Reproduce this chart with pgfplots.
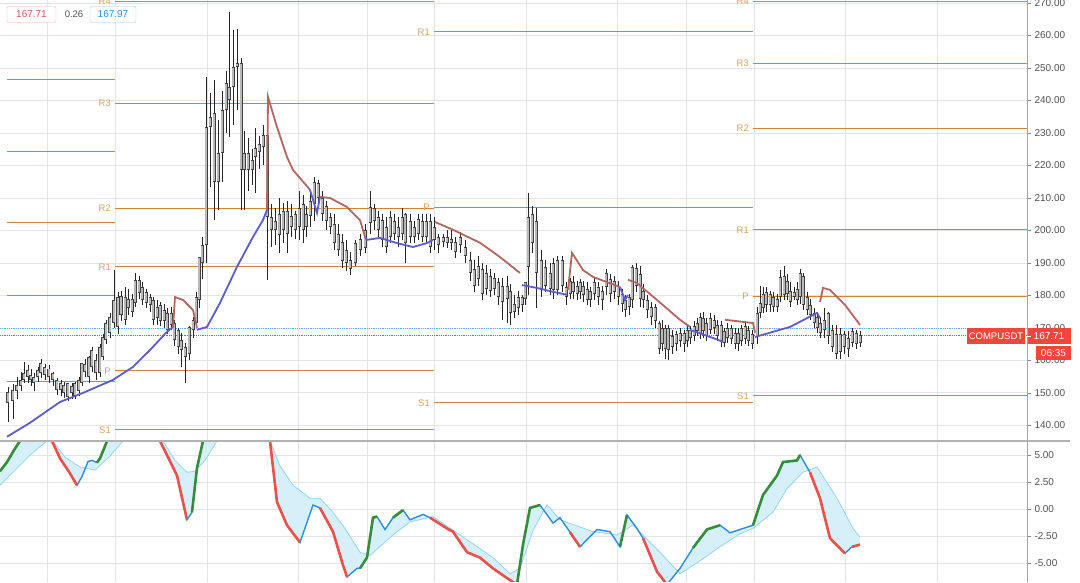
\documentclass[border=0pt]{standalone}
\usepackage{fontspec}
\setmainfont{Liberation Sans}
\usepackage{pgfplots}
\pgfplotsset{compat=1.18}
\usepackage{pgfplotstable}

\definecolor{gridc}{RGB}{228,228,232}
\definecolor{pivc}{RGB}{205,132,62}
\definecolor{pivt}{RGB}{210,160,100}
\definecolor{maR}{RGB}{178,102,96}
\definecolor{maB}{RGB}{92,92,205}
\definecolor{oscB}{RGB}{45,140,220}
\definecolor{oscR}{RGB}{235,80,75}
\definecolor{oscG}{RGB}{55,140,60}
\definecolor{bandL}{RGB}{150,212,232}
\definecolor{bandF}{RGB}{214,240,250}
\definecolor{tv}{RGB}{240,70,60}
\definecolor{tickc}{RGB}{80,80,80}

% candles: x, open, high, low, close
\pgfplotstableread{
x o h l c
8 146.9 151.8 141.1 150.3
13 147.5 152.8 142.0 150.9
17 150.5 155.0 148.0 152.5
21 152.0 156.5 150.5 154.0
24 154.0 159.5 153.0 156.1
28 154.9 158.5 153.0 157.1
31 154.0 157.5 152.0 155.5
34 153.1 156.0 150.5 155.0
38 154.9 158.0 153.5 157.1
41 156.1 160.5 154.5 159.2
45 155.5 159.0 154.0 158.0
49 154.9 158.5 153.0 157.5
53 154.0 156.5 152.0 156.1
57 150.9 154.5 149.5 154.0
61 151.0 154.0 149.0 153.0
64 150.0 153.5 148.5 152.4
68 148.7 153.0 147.5 153.0
72 150.0 153.0 148.0 152.0
75 149.0 153.5 148.0 153.0
79 150.5 155.0 149.0 154.0
82 153.1 159.2 152.0 159.2
85 156.5 160.5 155.0 159.0
89 155.0 161.5 153.0 161.0
92 158.0 164.0 156.5 163.2
96 156.1 162.0 154.0 160.2
100 156.1 165.0 155.0 164.2
103 161.1 168.0 160.0 167.2
106 166.3 172.5 165.0 171.5
110 168.5 174.5 167.0 173.4
114 171.5 187.8 170.0 178.6
118 170.3 181.0 168.0 179.5
121 174.0 181.5 172.0 179.8
125 172.5 182.5 171.0 179.5
128 176.0 182.0 174.0 179.0
132 175.0 180.5 173.5 179.0
135 177.7 186.9 176.5 184.8
139 180.8 186.0 179.0 184.8
142 178.5 184.0 177.0 182.5
146 177.7 182.0 176.0 181.0
150 177.0 180.5 175.0 179.5
153 172.5 179.5 171.0 178.6
157 173.0 178.5 171.0 176.5
160 172.0 178.0 170.5 177.0
164 172.0 177.5 170.0 175.5
167 169.4 176.0 168.0 174.5
171 171.0 176.5 169.5 174.5
174 166.3 172.5 164.5 171.5
178 164.2 170.0 162.0 169.4
181 163.2 168.5 158.0 166.3
185 161.1 165.5 153.0 164.2
189 162.0 170.5 160.0 170.3
193 169.5 173.5 167.0 172.5
196 171.5 181.0 170.0 179.5
199 178.6 191.8 176.0 191.8
202 190.0 198.0 185.0 195.5
206 195.5 247.2 190.0 231.8
210 231.8 242.3 213.4 235.0
214 215.0 246.3 203.2 236.0
218 215.0 234.0 206.3 223.8
222 223.8 243.0 215.0 237.0
226 237.1 249.0 230.0 245.4
229 240.1 267.2 228.8 244.2
233 244.1 261.7 232.5 250.3
237 250.3 262.0 237.0 251.5
241 218.6 253.0 206.3 251.5
244 218.6 230.6 206.3 223.8
248 218.6 228.5 212.0 223.8
252 218.6 225.0 214.0 221.7
255 222.6 231.5 211.5 225.4
259 224.0 229.0 219.0 226.5
263 225.7 232.5 220.0 229.4
267 204.1 230.5 184.8 229.4
271 200.2 208.0 195.0 204.1
275 200.0 207.0 195.5 203.0
279 198.5 210.0 193.0 205.0
283 200.0 208.5 196.0 206.0
287 199.0 209.0 193.0 206.0
291 201.0 208.0 198.0 204.5
295 200.0 206.0 197.5 205.0
299 201.0 212.0 197.0 207.0
303 200.0 211.0 196.0 208.0
306 201.0 207.5 198.0 205.0
310 204.5 212.0 201.0 209.0
314 208.0 216.5 203.0 215.0
318 210.0 215.5 207.0 214.5
322 205.0 212.0 203.0 210.0
326 203.0 209.0 200.0 207.5
330 201.0 205.5 199.0 204.0
334 196.0 205.0 194.0 202.0
338 194.0 202.0 192.0 199.0
342 190.5 199.0 188.5 196.5
346 190.0 197.0 187.5 194.0
350 188.0 193.5 186.3 191.0
355 190.0 197.0 189.0 196.0
360 194.0 199.0 192.0 197.5
365 194.5 202.0 193.0 200.2
370 202.3 212.0 199.0 207.2
374 203.0 208.0 200.0 207.0
378 200.0 206.0 198.0 204.0
382 197.1 205.0 195.0 203.2
386 195.0 204.0 193.0 201.0
390 198.0 206.0 196.0 204.0
394 199.0 205.0 197.0 203.0
398 198.0 204.0 195.0 201.0
402 199.0 207.0 197.0 204.0
405 196.2 205.5 190.0 205.0
410 198.0 205.0 196.0 203.0
414 198.0 203.0 196.0 201.0
418 199.0 205.0 197.0 203.5
422 198.0 205.0 196.5 203.0
426 198.0 205.0 196.0 203.0
430 195.0 205.0 193.0 203.0
434 197.0 204.0 194.0 201.0
438 195.5 199.0 193.0 198.0
443 196.5 199.0 195.0 198.0
447 196.0 200.0 194.5 198.0
451 196.0 200.0 194.0 197.5
455 193.5 198.0 191.5 196.5
460 195.5 199.5 193.0 198.0
465 192.0 197.0 190.0 195.0
470 187.0 193.5 184.5 191.0
474 183.0 191.0 181.0 188.0
478 185.0 192.0 183.0 189.0
482 180.5 190.0 178.5 188.0
486 182.0 189.5 180.0 187.0
490 181.5 188.0 179.5 186.0
494 182.0 187.0 180.0 185.5
498 179.5 185.5 177.0 184.0
502 178.0 185.5 172.5 183.0
507 179.0 186.0 171.5 183.0
510 174.5 183.5 171.0 181.5
514 175.0 180.0 173.0 177.5
518 176.0 181.5 174.0 179.5
522 177.0 180.0 175.0 179.5
525 179.0 184.0 177.0 184.0
528 188.8 211.5 180.0 204.1
532 196.0 207.5 193.0 205.0
536 187.0 207.0 176.0 203.0
541 181.7 194.0 179.5 190.9
545 183.0 191.0 181.0 188.8
550 182.0 190.0 180.0 187.0
553 181.7 191.5 179.0 190.0
557 181.7 192.0 180.0 190.9
562 183.0 192.0 181.0 191.0
566 179.5 184.0 177.0 182.6
570 180.5 185.5 179.0 184.5
573 181.0 186.0 179.0 184.0
577 180.5 184.5 178.5 183.0
580 181.0 185.0 179.0 184.0
583 180.0 184.5 178.0 183.0
587 178.6 184.0 177.0 182.0
590 178.6 182.5 176.5 181.5
594 180.5 185.5 178.5 184.0
598 179.5 184.0 177.0 182.5
602 178.6 183.0 175.5 181.5
606 182.7 188.0 180.0 186.9
610 180.5 186.5 178.0 185.0
614 181.0 186.0 179.0 184.5
618 179.5 184.5 177.0 183.0
622 177.5 182.0 175.0 180.5
625 175.5 180.0 173.5 178.6
629 176.5 180.5 174.0 179.5
632 178.6 189.5 176.0 188.8
636 183.0 190.0 181.0 188.5
640 179.0 189.0 176.5 186.5
643 178.6 183.5 176.0 181.5
647 175.5 180.0 173.0 178.6
651 173.4 178.0 171.0 176.5
655 172.0 177.5 170.0 176.5
659 163.6 172.0 162.0 171.5
662 165.0 172.5 163.0 170.0
665 163.5 171.0 160.5 170.0
668 163.2 171.0 160.0 170.0
672 164.0 169.5 162.0 167.5
676 165.0 169.0 163.0 168.0
680 166.0 170.0 164.0 168.5
684 165.0 169.5 162.5 168.5
687 166.0 171.0 164.0 169.5
690 167.0 170.5 165.0 169.5
694 167.5 172.0 166.0 170.5
697 169.0 173.0 167.5 171.5
700 168.0 174.5 166.5 173.5
703 169.0 175.0 167.0 173.0
706 167.5 173.0 166.0 171.5
710 169.5 174.5 168.0 173.0
714 170.0 174.0 168.0 172.5
717 167.5 172.5 166.0 171.0
721 166.0 172.0 164.0 171.0
724 165.5 170.0 164.0 169.0
727 167.0 171.5 165.5 170.0
731 166.5 171.0 165.0 170.0
735 165.0 170.0 163.5 168.5
738 165.0 170.0 163.0 168.5
741 166.0 171.0 164.5 170.0
745 166.5 172.0 165.0 170.5
748 166.0 170.5 164.5 169.5
752 165.0 169.5 163.5 168.0
757 167.2 176.5 165.0 174.5
760 174.5 183.0 173.0 177.7
763 176.0 182.5 174.5 180.5
766 177.0 182.5 175.0 181.0
770 177.0 181.5 175.0 180.5
773 176.5 181.0 175.0 179.5
777 176.5 180.5 175.0 179.0
780 179.5 187.8 178.0 185.7
784 180.0 189.0 178.5 186.0
787 180.5 186.5 178.5 184.5
790 178.0 184.0 176.5 181.5
794 179.5 182.5 178.5 181.0
797 178.5 184.0 177.0 182.0
800 179.5 188.0 177.5 186.9
803 177.0 187.0 175.5 186.0
807 175.5 181.0 174.0 179.5
810 174.0 179.0 172.5 177.0
814 171.5 176.0 170.0 174.5
817 170.0 175.0 168.5 173.5
820 168.5 173.5 167.0 171.5
824 169.5 176.0 167.0 172.5
828 167.5 175.0 165.0 174.5
832 164.2 171.0 162.5 169.4
836 162.0 171.0 160.5 168.0
840 162.5 170.0 160.5 168.0
844 164.0 169.0 162.0 168.0
848 163.5 169.0 161.0 167.0
852 165.5 170.0 164.0 169.0
856 165.0 169.5 163.5 168.5
860 165.5 169.0 164.0 167.7
}\candles

\pgfplotsset{
  panel/.style={
    scale only axis, width=1027pt,
    xmin=0, xmax=1027,
    axis line style={draw=none},
    xtick={47,115,207,298,367,434,526,617,686,754,845,937},
    xticklabels={}, major x tick style={draw=none},
    ytick pos=right, yticklabel pos=right,
    tick align=outside, major tick length=4pt,
    major y tick style={tickc!70, line width=0.6pt},
    grid=major, major grid style={gridc, line width=0.8pt},
    yticklabel style={font=\fontsize{10}{12}\selectfont, text=tickc,
      /pgf/number format/.cd, fixed, fixed zerofill, precision=2, assume math mode=true},
    unbounded coords=jump,
  },
}
\tikzset{pivlab/.style={anchor=east, text=pivt, font=\fontsize{9.5}{11}\selectfont, inner sep=1pt}}

\begin{document}
\begin{tikzpicture}
\path[use as bounding box] (0,0) rectangle (1080pt,582pt);

% price panel
\begin{axis}[panel, at={(0pt,582pt)}, anchor=north west, height=440pt,
  ymin=135.5, ymax=270.92, ytick={140,150,...,270}]
  % pivot levels
  \addplot[pivc, line width=1pt] coordinates {
    (7,246.3)(115,246.3)(115,nan) (7,224.2)(115,224.2)(115,nan)
    (7,202.3)(115,202.3)(115,nan) (7,180.1)(115,180.1)(115,nan)
    (7,153.4)(115,153.4)(115,nan)
    (115,270.6)(434,270.6)(434,nan) (115,239.2)(434,239.2)(434,nan)
    (115,206.9)(434,206.9)(434,nan) (115,188.8)(434,188.8)(434,nan)
    (115,156.8)(434,156.8)(434,nan) (115,138.6)(434,138.6)(434,nan)
    (434,261.1)(753,261.1)(753,nan) (434,207.2)(753,207.2)(753,nan)
    (434,146.9)(753,146.9)(753,nan)
    (753,270.6)(1027,270.6)(1027,nan) (753,251.5)(1027,251.5)(1027,nan)
    (753,231.5)(1027,231.5)(1027,nan) (753,200.2)(1027,200.2)(1027,nan)
    (753,179.8)(1027,179.8)(1027,nan) (753,149.1)(1027,149.1)
  };
  \node[pivlab] at (axis cs:112,270.6) {R4};
  \node[pivlab] at (axis cs:112,239.2) {R3};
  \node[pivlab] at (axis cs:112,206.9) {R2};
  \node[pivlab] at (axis cs:112,188.8) {R1};
  \node[pivlab] at (axis cs:112,156.8) {P};
  \node[pivlab] at (axis cs:112,138.6) {S1};
  \node[pivlab] at (axis cs:431,261.1) {R1};
  \node[pivlab] at (axis cs:431,207.2) {P};
  \node[pivlab] at (axis cs:431,146.9) {S1};
  \node[pivlab] at (axis cs:750,270.6) {R4};
  \node[pivlab] at (axis cs:750,251.5) {R3};
  \node[pivlab] at (axis cs:750,231.5) {R2};
  \node[pivlab] at (axis cs:750,200.2) {R1};
  \node[pivlab] at (axis cs:750,179.8) {P};
  \node[pivlab] at (axis cs:750,149.1) {S1};
  % last price lines
  \addplot[oscB!70, densely dotted, line width=0.8pt] coordinates {(0,169.8)(1027,169.8)};
  \addplot[tv, densely dotted, line width=0.8pt] coordinates {(0,167.71)(1027,167.71)};
  % wicks
  \addplot[draw=none, mark=none, error bars/.cd, y dir=both, y explicit, error mark=none,
    error bar style={line width=0.9pt, black!85}]
    table[x=x, y expr={(\thisrow{h}+\thisrow{l})/2}, y error expr={(\thisrow{h}-\thisrow{l})/2}] {\candles};
  % bodies: dark outline, grey inside
  \addplot[draw=none, mark=none, error bars/.cd, y dir=both, y explicit, error mark=none,
    error bar style={line width=3pt, black!75}]
    table[x=x, y expr={(\thisrow{o}+\thisrow{c})/2}, y error expr={max(abs(\thisrow{o}-\thisrow{c})/2,0.6)}] {\candles};
  \addplot[draw=none, mark=none, error bars/.cd, y dir=both, y explicit, error mark=none,
    error bar style={line width=1.4pt, gray!55}]
    table[x=x, y expr={(\thisrow{o}+\thisrow{c})/2}, y error expr={max(abs(\thisrow{o}-\thisrow{c})/2-0.3,0.25)}] {\candles};
  % moving line, blue part
  \addplot[maB, line width=1.8pt] coordinates {
    (7,136.5)(30,140.8)(60,147.2)(83,150.0)(113,154.0)(133,158.0)(150,163.2)(167,168.8)(173,170.3)(173,nan)
    (197,169.4)(207,170.3)(220,177.7)(237,188.8)(253,198.0)(263,203.2)(267,206.3)(267,nan)
    (310,212.5)(313,209.4)(317,205.4)(320,210.3)(320,nan)
    (365,198.0)(367,197.1)(380,197.7)(397,196.1)(413,194.9)(427,196.1)(433,197.1)(433,nan)
    (522,183.2)(537,182.3)(553,181.1)(567,180.2)(567,nan)
    (620,182.6)(625,178.6)(628,180.1)(628,nan)
    (690,169.4)(713,166.9)(723,165.7)(723,nan)
    (755,167.2)(790,170.3)(817,174.6)(820,173.0)
  };
  % moving line, red part
  \addplot[maR, line width=1.8pt] coordinates {
    (173,170.3)(175,179.5)(183,178.6)(193,175.5)(197,170.0)(197,nan)
    (267,206.3)(268,241.1)(277,231.8)(287,222.6)(293,218.6)(310,212.5)(310,nan)
    (320,210.3)(330,210.0)(347,207.2)(360,203.2)(365,198.0)(365,nan)
    (435,202.6)(453,200.2)(480,196.2)(500,191.8)(520,186.9)(520,nan)
    (568,181.7)(572,193.1)(583,187.8)(593,185.7)(620,182.6)(620,nan)
    (628,184.8)(637,183.8)(657,178.6)(680,172.5)(690,170.3)(690,nan)
    (725,172.5)(753,171.5)(755,168.5)(755,nan)
    (820,178.0)(823,182.3)(830,181.7)(845,177.1)(860,170.9)
  };
\end{axis}

% oscillator panel
\begin{axis}[panel, at={(0pt,141pt)}, anchor=north west, height=141pt,
  ymin=-6.76, ymax=6.30, ytick={-5,-2.5,0,2.5,5}]
  % band between fast and slow line (fast forward, slow backward)
  \addplot[fill=bandF, draw=none] coordinates {
    (0,3.5)(7,4.35)(15,5.6)(20,6.3)(30,8)(45,8)(52,6.3)(60,4.7)(70,3.3)(77,2.2)(82,3.0)(88,4.4)(92,4.5)(97,4.3)
    (100,4.7)(104,5.6)(107,6.3)(120,9)(150,9)(160,6.3)(167,5.0)(177,3.1)(187,-1.0)(192,-0.3)(197,3.8)(203,6.3)
    (215,9)(260,9)(270,6.3)(277,0.65)(287,-1.5)(300,-3.1)(313,0.37)(320,0.1)(333,-2.1)(343,-5.2)(347,-6.3)
    (357,-5.5)(360,-5.5)(367,-4.5)(373,-0.8)(377,-0.7)(385,-1.9)(393,-0.8)(403,-0.1)(410,-1.0)(423,-0.5)
    (430,-0.8)(447,-1.8)(453,-2.1)(467,-4.0)(480,-4.5)(493,-5.5)(507,-6.4)(517,-7.0)(523,-3.3)(530,0.1)
    (540,0.37)(553,-1.3)(560,-0.8)(580,-3.5)(597,-1.9)(610,-2.1)(620,-3.5)(627,-0.55)(637,-1.8)(643,-2.7)
    (657,-5.8)(667,-7.0)(680,-5.5)(693,-3.6)(707,-1.9)(720,-1.5)(730,-2.2)(753,-1.5)(763,1.3)(777,3.1)
    (783,4.35)(797,4.5)(800,5.0)(810,3.4)(820,1.0)(830,-2.7)(845,-4.1)(852,-3.5)(860,-3.3)
    (860,-2.6)(853,-1.8)(837,1.0)(817,3.9)(803,3.4)(787,1.9)(773,-0.3)(753,-1.8)(740,-2.3)(720,-3.5)
    (700,-4.8)(680,-6.0)(660,-4.0)(633,-1.5)(617,-2.4)(593,-2.1)(560,-1.0)(547,0.4)(533,-2.0)(520,-5.5)
    (510,-6.0)(493,-4.5)(460,-2.4)(433,-0.7)(410,-1.2)(393,-2.4)(370,-4.3)(360,-4.0)(345,-1.8)(333,-0.3)
    (320,1.0)(310,1.0)(293,2.2)(280,4.0)(270,6.3)(260,8)(230,8)(217,6.3)(205,4.5)(195,3.5)(187,3.4)
    (175,4.5)(163,6.3)(155,8)(140,8)(123,6.3)(110,4.9)(95,3.6)(80,3.9)(65,4.8)(53,6.3)(50,6.6)(47,6.3)
    (30,5.0)(15,3.6)(0,2.2)
  } -- cycle;
  \addplot[bandL, line width=0.8pt] coordinates {
    (0,2.2)(15,3.6)(30,5.0)(47,6.3)(50,6.6)(53,6.3)(65,4.8)(80,3.9)(95,3.6)(110,4.9)(123,6.3)(140,8)(155,8)
    (163,6.3)(175,4.5)(187,3.4)(195,3.5)(205,4.5)(217,6.3)(230,8)(260,8)(270,6.3)(280,4.0)(293,2.2)(310,1.0)
    (320,1.0)(333,-0.3)(345,-1.8)(360,-4.0)(370,-4.3)(393,-2.4)(410,-1.2)(433,-0.7)(460,-2.4)(493,-4.5)
    (510,-6.0)(520,-5.5)(533,-2.0)(547,0.4)(560,-1.0)(593,-2.1)(617,-2.4)(633,-1.5)(660,-4.0)(680,-6.0)
    (700,-4.8)(720,-3.5)(740,-2.3)(753,-1.8)(773,-0.3)(787,1.9)(803,3.4)(817,3.9)(837,1.0)(853,-1.8)(860,-2.6)
  };
  \addplot[oscB, line width=1.4pt] coordinates {
    (0,3.5)(7,4.35)(15,5.6)(20,6.3)(30,8)(45,8)(52,6.3)(60,4.7)(70,3.3)(77,2.2)(82,3.0)(88,4.4)(92,4.5)(97,4.3)
    (100,4.7)(104,5.6)(107,6.3)(120,9)(150,9)(160,6.3)(167,5.0)(177,3.1)(187,-1.0)(192,-0.3)(197,3.8)(203,6.3)
    (215,9)(260,9)(270,6.3)(277,0.65)(287,-1.5)(300,-3.1)(313,0.37)(320,0.1)(333,-2.1)(343,-5.2)(347,-6.3)
    (357,-5.5)(360,-5.5)(367,-4.5)(373,-0.8)(377,-0.7)(385,-1.9)(393,-0.8)(403,-0.1)(410,-1.0)(423,-0.5)
    (430,-0.8)(447,-1.8)(453,-2.1)(467,-4.0)(480,-4.5)(493,-5.5)(507,-6.4)(517,-7.0)(523,-3.3)(530,0.1)
    (540,0.37)(553,-1.3)(560,-0.8)(580,-3.5)(597,-1.9)(610,-2.1)(620,-3.5)(627,-0.55)(637,-1.8)(643,-2.7)
    (657,-5.8)(667,-7.0)(680,-5.5)(693,-3.6)(707,-1.9)(720,-1.5)(730,-2.2)(753,-1.5)(763,1.3)(777,3.1)
    (783,4.35)(797,4.5)(800,5.0)(810,3.4)(820,1.0)(830,-2.7)(845,-4.1)(852,-3.5)(860,-3.3)
  };
  \addplot[oscG, line width=2.6pt] coordinates {
    (0,3.5)(7,4.35)(15,5.6)(20,6.3)(30,8)(30,nan)
    (97,4.3)(100,4.7)(104,5.6)(107,6.3)(120,9)(120,nan)
    (192,-0.3)(197,3.8)(203,6.3)(215,9)(215,nan)
    (360,-5.5)(367,-4.5)(373,-0.8)(377,-0.7)(377,nan)
    (393,-0.8)(403,-0.1)(403,nan)
    (517,-7.0)(523,-3.3)(530,0.1)(540,0.37)(540,nan)
    (620,-3.5)(627,-0.55)(627,nan)
    (693,-3.6)(707,-1.9)(720,-1.5)(720,nan)
    (753,-1.5)(763,1.3)(777,3.1)(783,4.35)(797,4.5)(800,5.0)
  };
  \addplot[oscR, line width=2.6pt] coordinates {
    (45,8)(52,6.3)(60,4.7)(70,3.3)(77,2.2)(77,nan)
    (150,9)(160,6.3)(167,5.0)(177,3.1)(187,-1.0)(187,nan)
    (260,9)(270,6.3)(277,0.65)(287,-1.5)(300,-3.1)(300,nan)
    (320,0.1)(333,-2.1)(343,-5.2)(347,-6.3)(347,nan)
    (430,-0.8)(447,-1.8)(453,-2.1)(467,-4.0)(480,-4.5)(493,-5.5)(507,-6.4)(517,-7.0)(517,nan)
    (570,-2.15)(580,-3.5)(580,nan)
    (643,-2.7)(657,-5.8)(667,-7.0)(667,nan)
    (810,3.4)(820,1.0)(830,-2.7)(845,-4.1)(845,nan)
    (852,-3.5)(860,-3.3)
  };
\end{axis}

% frame lines
\draw[gray!70, line width=0.8pt] (1027pt,0pt) -- (1027pt,582pt);
\draw[gray!60, line width=1.5pt] (0pt,141pt) -- (1070pt,141pt);

% last price tags
\node[fill=tv, text=white, inner sep=0pt, minimum width=58pt, minimum height=16pt,
  font=\fontsize{9.5}{10}\selectfont] at (996pt,246pt) {COMPUSDT};
\node[fill=tv, text=white, inner sep=0pt, minimum width=43pt, minimum height=16pt,
  font=\fontsize{10}{10}\selectfont] at (1049pt,246pt) {167.71};
\draw[white, line width=0.6pt] (1027pt,246pt) -- (1031pt,246pt);
\node[fill=tv, text=white, inner sep=0pt, minimum width=35pt, minimum height=14pt,
  font=\fontsize{10}{10}\selectfont] at (1053.5pt,229pt) {06:35};

% header values
\node[draw=tv!45, rounded corners=2pt, text={rgb,255:red,200;green,90;blue,90}, fill=white,
  minimum width=49pt, minimum height=16pt, inner sep=0pt, font=\fontsize{10}{10}\selectfont]
  at (31.5pt,567.5pt) {167.71};
\node[text=tickc, font=\fontsize{9.5}{10}\selectfont] at (74pt,567.5pt) {0.26};
\node[draw=oscB!50, rounded corners=2pt, text=oscB, fill=white,
  minimum width=46pt, minimum height=16pt, inner sep=0pt, font=\fontsize{10}{10}\selectfont]
  at (113pt,567.5pt) {167.97};
\end{tikzpicture}
\end{document}
